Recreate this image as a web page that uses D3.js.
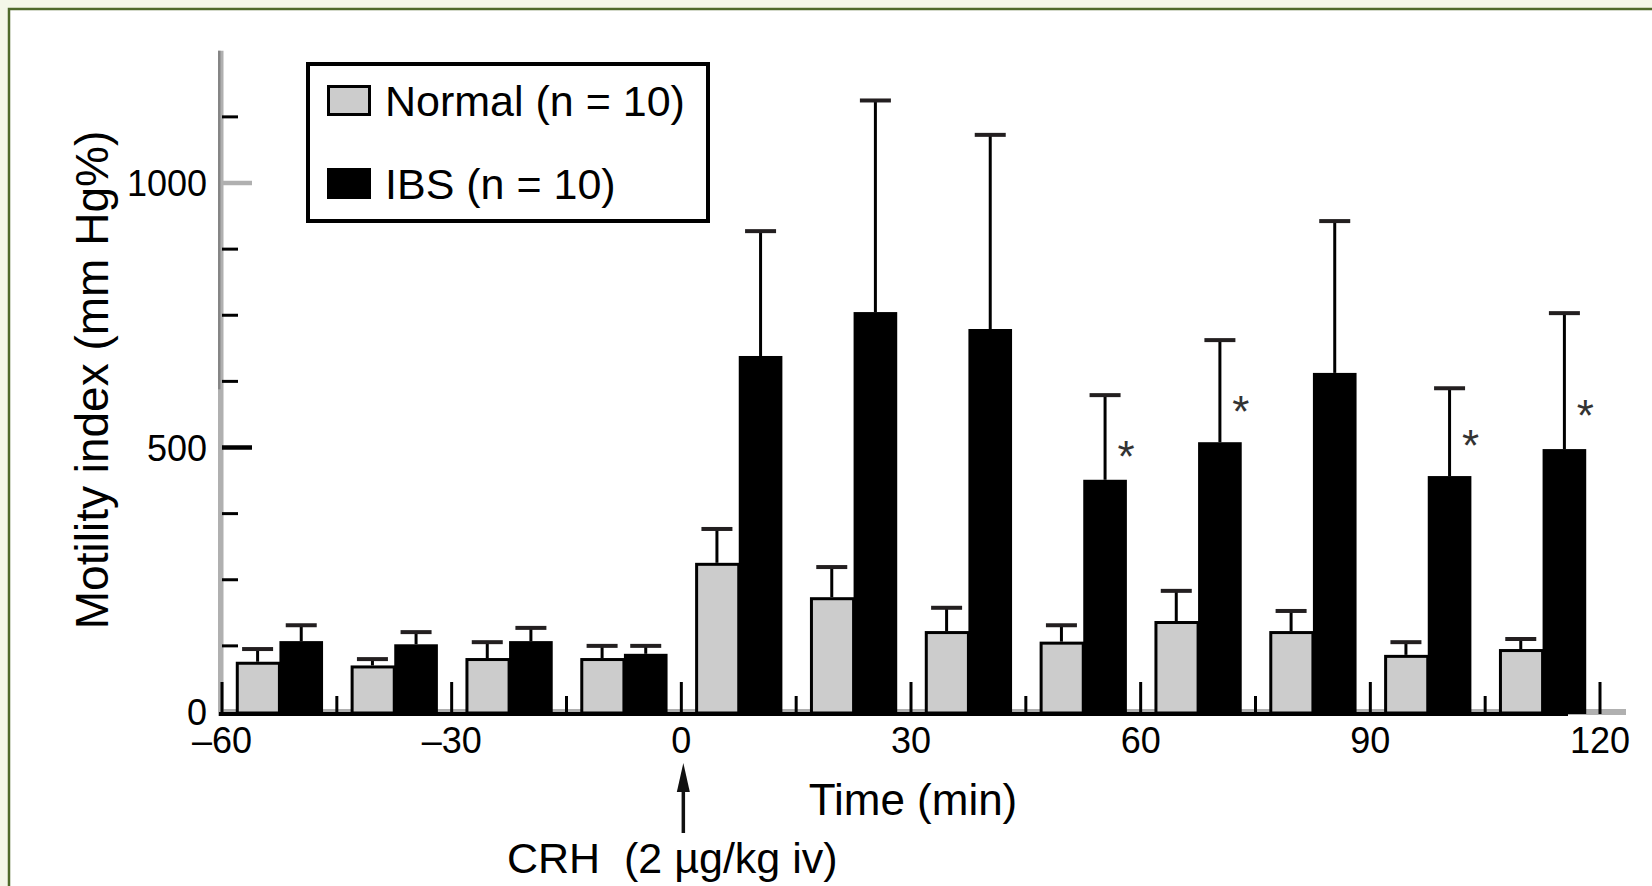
<!DOCTYPE html>
<html>
<head>
<meta charset="utf-8">
<script src="https://cdn.jsdelivr.net/npm/d3@7"></script>
<style>
  html, body { margin: 0; padding: 0; background: #f4f7e8; }
  svg { display: block; }
  text { font-family: "Liberation Sans", Arial, Helvetica, sans-serif; fill: #000; }
</style>
</head>
<body>
<svg id="chart" width="1652" height="886"></svg>
<script>
// ---- data ----
const timeBins   = [-52.5, -37.5, -22.5, -7.5, 7.5, 22.5, 37.5, 52.5, 67.5, 82.5, 97.5, 112.5];
const normalMean = [95, 88, 102, 102, 282, 217, 153, 133, 172, 153, 108, 119];
const normalSEM  = [24, 12, 30, 23, 64, 57, 44, 31, 57, 38, 24, 19];
const ibsMean    = [134, 128, 134, 110, 673, 756, 724, 439, 510, 641, 446, 497];
const ibsSEM     = [30, 23, 25, 15, 236, 400, 367, 160, 193, 287, 166, 257];
const sigBins    = [52.5, 67.5, 97.5, 112.5];
const sigLevel   = [501, 586, 522, 578];
const xTickValues = [-60, -45, -30, -15, 0, 15, 30, 45, 60, 75, 90, 105, 120];
const xTickLabels = ["–60", "–30", "0", "30", "60", "90", "120"];
const xLabelValues = [-60, -30, 0, 30, 60, 90, 120];
const yTickValues = [125, 250, 375, 500, 625, 750, 875, 1000, 1125];
const yLabelValues = [0, 500, 1000];
const seriesNames = ["Normal (n = 10)", "IBS (n = 10)"];
const xTitle = "Time (min)";
const yTitle = "Motility index (mm Hg%)";
const stimulusLabel = "CRH  (2 µg/kg iv)";

// ---- scales ----
const x = d3.scaleLinear().domain([-60, 120]).range([222, 1600]);
const y = d3.scaleLinear().domain([0, 1000]).range([712, 183]);
const barW = x(5.7) - x(0);

const svg = d3.select("#chart");

// frame
svg.append("rect").attr("x", 9).attr("y", 9).attr("width", 1700).attr("height", 1000)
  .attr("fill", "#ffffff").attr("stroke", "#4f6a2b").attr("stroke-width", 2.5);

// ---- y axis line ----
svg.append("rect").attr("x", 218).attr("y", y(1250)).attr("width", 5.5).attr("height", y(0) + 4 - y(1250))
  .attr("fill", "#b0b0b0");
svg.append("rect").attr("x", 218).attr("y", y(1250)).attr("width", 2.5).attr("height", y(610) - y(1250))
  .attr("fill", "#858585");

// y ticks
svg.selectAll(".ytick").data(yTickValues).join("line")
  .attr("class", "ytick")
  .attr("x1", 222)
  .attr("x2", d => (d === 500 || d === 1000) ? 252 : 238)
  .attr("y1", d => y(d)).attr("y2", d => y(d))
  .attr("stroke", d => d === 1000 ? "#b0b0b0" : "#000")
  .attr("stroke-width", d => (d === 500 || d === 1000) ? 4.5 : 3);

// y tick labels
svg.selectAll(".ylab").data(yLabelValues).join("text")
  .attr("class", "ylab")
  .attr("x", 207)
  .attr("y", d => y(d) + 13)
  .attr("text-anchor", "end")
  .attr("font-size", 36)
  .text(d => d);

// ---- x axis: gray base line ----
svg.append("rect").attr("x", 222).attr("y", y(0) - 3).attr("width", 1626 - 222).attr("height", 6)
  .attr("fill", "#b0b0b0");

// ---- bars ----
const g = svg.append("g");
// normal bars (gray with black outline)
g.selectAll(".nbar").data(timeBins).join("rect")
  .attr("class", "nbar")
  .attr("x", d => x(d) - barW + 1.5)
  .attr("y", (d, i) => y(normalMean[i]) + 1.5)
  .attr("width", barW - 1.5)
  .attr("height", (d, i) => y(0) + 1 - y(normalMean[i]) - 1.5)
  .attr("fill", "#cccccc").attr("stroke", "#000").attr("stroke-width", 3);
// IBS bars (black)
g.selectAll(".ibar").data(timeBins).join("rect")
  .attr("class", "ibar")
  .attr("x", d => x(d))
  .attr("y", (d, i) => y(ibsMean[i]))
  .attr("width", barW)
  .attr("height", (d, i) => y(0) + 2 - y(ibsMean[i]))
  .attr("fill", "#000");

// error bars
function errorBars(cls, means, sems, offset) {
  const eb = g.selectAll("." + cls).data(timeBins).join("g").attr("class", cls);
  eb.append("line")
    .attr("x1", d => x(d) + offset).attr("x2", d => x(d) + offset)
    .attr("y1", (d, i) => y(means[i]))
    .attr("y2", (d, i) => y(means[i] + sems[i]))
    .attr("stroke", "#000").attr("stroke-width", 3);
  eb.append("line")
    .attr("x1", d => x(d) + offset - 15.5).attr("x2", d => x(d) + offset + 15.5)
    .attr("y1", (d, i) => y(means[i] + sems[i]))
    .attr("y2", (d, i) => y(means[i] + sems[i]))
    .attr("stroke", "#231f20").attr("stroke-width", 4);
}
errorBars("nerr", normalMean, normalSEM, -barW / 2);
errorBars("ierr", ibsMean, ibsSEM, barW / 2);

// black base line
svg.append("rect").attr("x", 219).attr("y", y(0)).attr("width", 1568 - 219).attr("height", 4)
  .attr("fill", "#000");

// x ticks (pointing up)
svg.selectAll(".xtick").data(xTickValues).join("line")
  .attr("class", "xtick")
  .attr("x1", d => x(d)).attr("x2", d => x(d))
  .attr("y1", y(0) + 2)
  .attr("y2", d => (d % 30 === 0) ? y(0) - 30 : y(0) - 16)
  .attr("stroke", "#000").attr("stroke-width", 3);

// x tick labels
svg.selectAll(".xlab").data(xLabelValues).join("text")
  .attr("class", "xlab")
  .attr("x", d => x(d))
  .attr("y", 753)
  .attr("text-anchor", "middle")
  .attr("font-size", 36)
  .text((d, i) => xTickLabels[i]);

// significance asterisks
svg.selectAll(".sig").data(sigBins).join("text")
  .attr("class", "sig")
  .attr("x", d => x(d) + barW / 2 + 21)
  .attr("y", (d, i) => y(sigLevel[i]) + 25)
  .attr("text-anchor", "middle")
  .attr("font-size", 44)
  .style("fill", "#333")
  .text("*");

// axis titles
svg.append("text").attr("x", 913).attr("y", 815).attr("text-anchor", "middle")
  .attr("font-size", 44).text(xTitle);
svg.append("text")
  .attr("transform", "translate(108,380) rotate(-90)")
  .attr("text-anchor", "middle").attr("font-size", 46).text(yTitle);

// stimulus arrow + label
const ax = x(0) + 2;
svg.append("line").attr("x1", ax).attr("x2", ax).attr("y1", 833).attr("y2", 780)
  .attr("stroke", "#111").attr("stroke-width", 3.5);
svg.append("path")
  .attr("d", `M${ax},763 L${ax - 6.5},792 L${ax + 6.5},792 Z`)
  .attr("fill", "#111");
svg.append("text").attr("x", 507).attr("y", 873).attr("font-size", 43)
  .style("white-space", "pre").text(stimulusLabel);

// ---- legend ----
const lg = svg.append("g");
lg.append("rect").attr("x", 308).attr("y", 64).attr("width", 400).attr("height", 157)
  .attr("fill", "#fff").attr("stroke", "#000").attr("stroke-width", 4);
const swatchY = [85, 168];
lg.selectAll(".sw").data(seriesNames).join("rect")
  .attr("class", "sw")
  .attr("x", (d, i) => i === 0 ? 328.5 : 327)
  .attr("y", (d, i) => i === 0 ? swatchY[i] + 1.5 : swatchY[i])
  .attr("width", (d, i) => i === 0 ? 41 : 44)
  .attr("height", (d, i) => i === 0 ? 28 : 31)
  .attr("fill", (d, i) => i === 0 ? "#cccccc" : "#000")
  .attr("stroke", "#000").attr("stroke-width", (d, i) => i === 0 ? 3 : 0);
lg.selectAll(".lt").data(seriesNames).join("text")
  .attr("class", "lt")
  .attr("x", 385)
  .attr("y", (d, i) => swatchY[i] + 31)
  .attr("font-size", 43)
  .text(d => d);
</script>
</body>
</html>
